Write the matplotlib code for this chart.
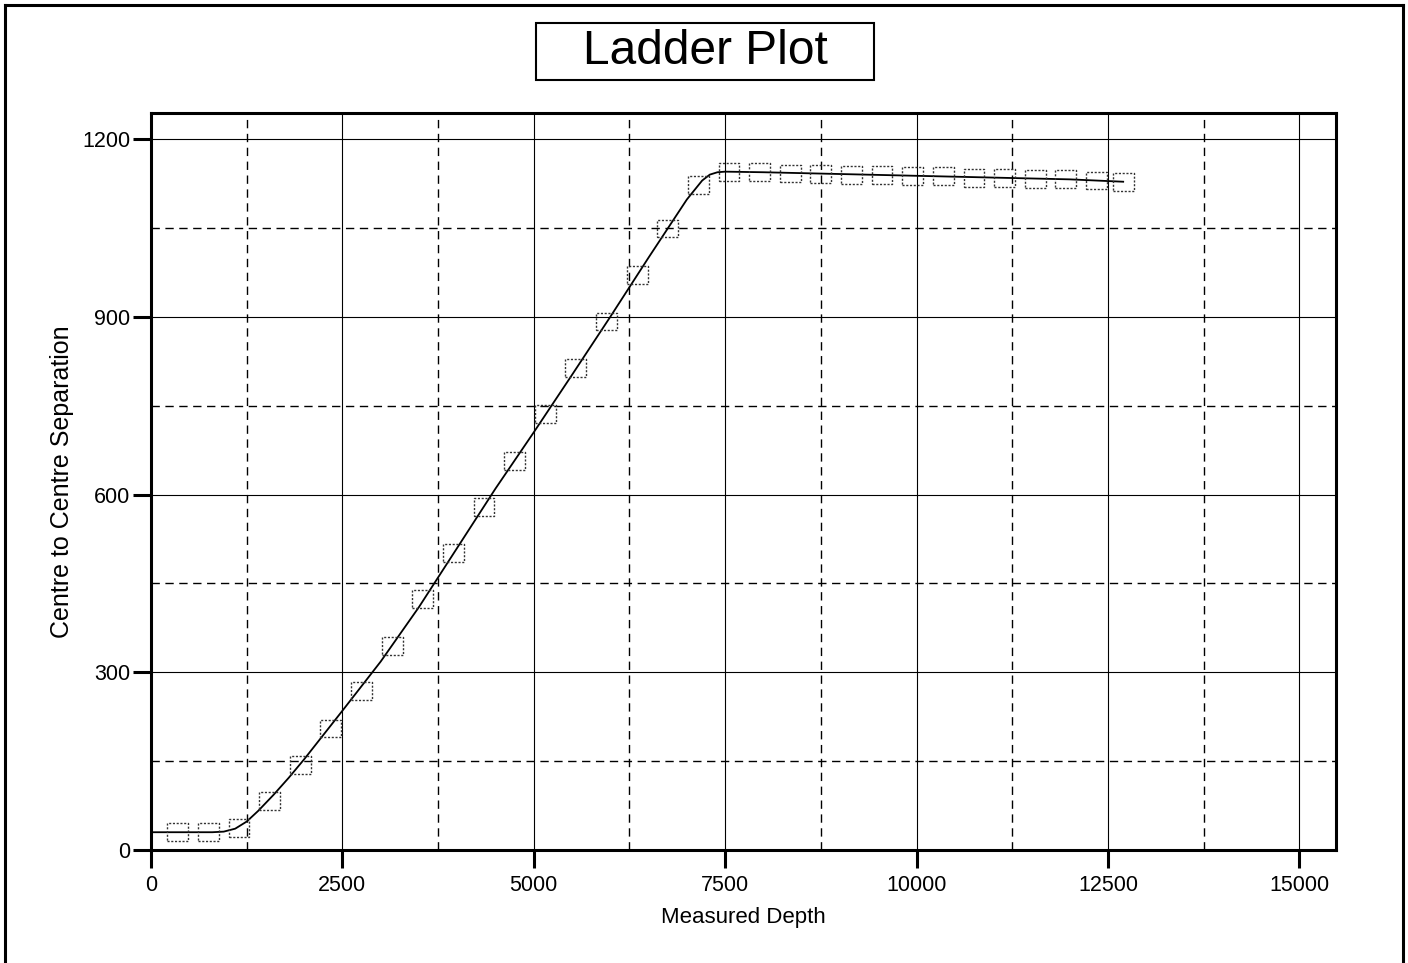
import numpy as np
import matplotlib
matplotlib.use("Agg")
import matplotlib.pyplot as plt
from matplotlib.lines import Line2D
from matplotlib.patches import Rectangle
from matplotlib.ticker import MultipleLocator

plt.rcParams["font.family"] = ["Liberation Sans", "DejaVu Sans"]

# survey stations (markers)
station_md = [350, 750, 1150, 1550, 1950, 2350, 2750, 3150, 3550, 3950, 4350,
              4750, 5150, 5550, 5950, 6350, 6750, 7150, 7550, 7950, 8350, 8750,
              9150, 9550, 9950, 10350, 10750, 11150, 11550, 11950, 12350, 12700]
station_sep = [30, 30, 37, 83, 144, 205, 269, 345, 424, 501, 579,
               657, 736, 814, 892, 971, 1049, 1123, 1144, 1144, 1142, 1141,
               1139, 1139, 1137, 1137, 1135, 1134, 1133, 1133, 1130, 1128]

# continuous separation curve
curve_md = [0, 800, 950, 1100, 1250, 1400, 1600, 1800, 2000, 2500, 3000, 3500, 4000,
            4500, 5000, 5500, 6000, 6500, 7000, 7200, 7300, 7400, 7500, 8000,
            9000, 10000, 11000, 12000, 12700]
curve_sep = [30, 30, 31, 36, 48, 66, 93, 122, 153, 235, 318, 410, 510,
             610, 705, 802, 900, 1000, 1098, 1130, 1140, 1144, 1145, 1144,
             1141, 1138, 1135, 1132, 1128]

fig = plt.figure(figsize=(14.08, 9.63), dpi=100)
ax = fig.add_axes([151/1408, 1 - 850/963, (1336 - 151)/1408, (850 - 113)/963])

ax.set_xlim(0, 15480)
ax.set_ylim(0, 1244)
ax.xaxis.set_major_locator(MultipleLocator(2500))
ax.xaxis.set_minor_locator(MultipleLocator(1250))
ax.yaxis.set_major_locator(MultipleLocator(300))
ax.yaxis.set_minor_locator(MultipleLocator(150))

ax.grid(which="major", color="black", linewidth=0.8, linestyle="-")
ax.grid(which="minor", color="black", linewidth=1.0, linestyle=(0, (6, 4)))
ax.set_axisbelow(True)

ax.tick_params(which="major", direction="out", length=13, width=2.2,
               labelsize=15.5, pad=2)
ax.tick_params(which="minor", length=0)
ax.tick_params(axis="x", pad=5)

for sp in ax.spines.values():
    sp.set_linewidth(2.2)

ax.plot(curve_md, curve_sep, color="black", linewidth=1.3, zorder=3)

box = [(-1.0, -0.857), (1.0, -0.857), (1.0, 0.857), (-1.0, 0.857), (-1.0, -0.857)]
ax.scatter(station_md, station_sep, marker=box, s=15**2, facecolors="none",
           edgecolors="#333333", linewidths=1.0, linestyles=(0, (1.5, 1.2)),
           zorder=4)

ax.set_xlabel("Measured Depth", fontsize=16, labelpad=8)
ax.set_ylabel("Centre to Centre Separation", fontsize=18, labelpad=6)

# title box
fig.add_artist(Rectangle((536/1408, 1 - 80/963), 338/1408, 57/963,
                         transform=fig.transFigure, fill=False,
                         edgecolor="black", linewidth=1.5))
fig.text(705/1408, 1 - 52/963, "Ladder Plot", fontsize=34.5,
         ha="center", va="center")

# page frame
fw = 2.2
fig.add_artist(Line2D([5/1408, 5/1408], [0, 1 - 5/963], transform=fig.transFigure,
                      color="black", linewidth=fw))
fig.add_artist(Line2D([5/1408, 1403/1408], [1 - 5/963, 1 - 5/963],
                      transform=fig.transFigure, color="black", linewidth=fw))
fig.add_artist(Line2D([1403/1408, 1403/1408], [0, 1 - 5/963],
                      transform=fig.transFigure, color="black", linewidth=fw))

fig.savefig("out.png", dpi=100)
